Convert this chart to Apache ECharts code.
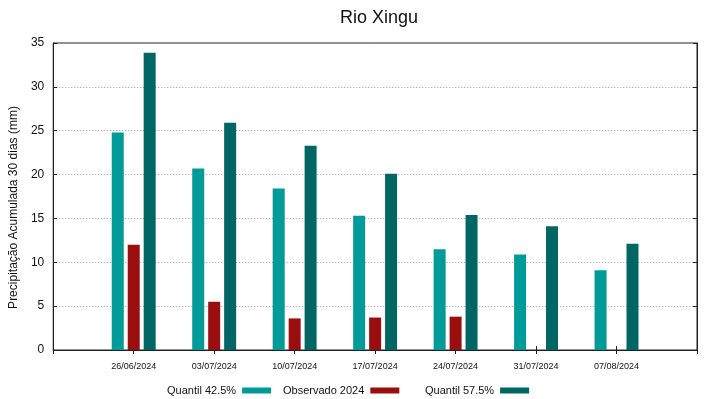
<!DOCTYPE html>
<html>
<head>
<meta charset="utf-8">
<script src="https://cdn.jsdelivr.net/npm/echarts@6/dist/echarts.min.js"></script>
<style>
  html, body { margin: 0; padding: 0; background: #fff; }
  #chart { width: 719px; height: 399px; }
</style>
</head>
<body>
<div id="chart"></div>
<script>
// dados (mm)
var datas = ['26/06/2024', '03/07/2024', '10/07/2024', '17/07/2024', '24/07/2024', '31/07/2024', '07/08/2024'];
var quantil425 = [24.8, 20.7, 18.4, 15.3, 11.5, 10.9, 9.1];
var observado2024 = [12.0, 5.5, 3.6, 3.7, 3.8, null, null];
var quantil575 = [33.9, 25.9, 23.3, 20.1, 15.4, 14.1, 12.1];
var yTicks = [0, 5, 10, 15, 20, 25, 30, 35];

// categorias vazias nas pontas, para deixar meia banda de espaço como no original
var cats = [''].concat(datas, ['']);
function pad(arr) { return [null].concat(arr, [null]); }

var font = 'Liberation Sans, Arial, sans-serif';
var chart = echarts.init(document.getElementById('chart'));

function legendItem(name, left) {
    return {
        data: [name], left: left, top: 380, align: 'right',
        icon: 'rect', itemWidth: 29, itemHeight: 6, itemGap: 0,
        selectedMode: false,
        textStyle: { fontFamily: font, fontSize: 11, color: '#111', padding: [0, 1, 0, 0] }
    };
}

var option = {
    animation: false,
    backgroundColor: '#fff',
    title: {
        text: 'Rio Xingu', left: 374, top: 4, textAlign: 'center',
        textStyle: { fontFamily: font, fontSize: 18, fontWeight: 'normal', color: '#111' }
    },
    legend: [
        legendItem('Quantil 42.5%', 162),
        legendItem('Observado 2024', 278),
        legendItem('Quantil 57.5%', 420)
    ],
    grid: { left: 51, right: 22, top: 43, bottom: 49, show: true, borderColor: '#222', borderWidth: 1 },
    xAxis: [{
        type: 'category', data: cats, boundaryGap: false,
        axisLine: { lineStyle: { color: '#222' } },
        axisTick: { inside: true, length: 4, lineStyle: { color: '#222' } },
        axisLabel: { fontFamily: font, fontSize: 9, color: '#111', margin: 12 },
        splitLine: { show: false }
    }, {
        type: 'category', data: cats, boundaryGap: false, position: 'top',
        axisLine: { lineStyle: { color: '#222' } },
        axisTick: { inside: true, length: 4, lineStyle: { color: '#222' } },
        axisLabel: { show: false }
    }],
    yAxis: [{
        type: 'value', min: 0, max: 35, interval: 5,
        name: 'Precipitação Acumulada 30 dias (mm)',
        nameLocation: 'middle', nameGap: 32, nameRotate: 90,
        nameTextStyle: { fontFamily: font, fontSize: 12, color: '#111', padding: [0, 22, 0, 0] },
        axisLine: { show: true, lineStyle: { color: '#222' } },
        axisTick: { show: true, inside: true, length: 4, lineStyle: { color: '#222' } },
        axisLabel: {
            fontFamily: font, fontSize: 12, color: '#111', margin: 9,
            formatter: function (v) { return yTicks.indexOf(v) >= 0 ? String(v) : ''; }
        },
        splitLine: { lineStyle: { color: '#999', type: [1, 2], width: 1 } }
    }, {
        type: 'value', min: 0, max: 35, interval: 5, position: 'right',
        axisLine: { show: true, lineStyle: { color: '#222' } },
        axisTick: { show: true, inside: true, length: 4, lineStyle: { color: '#222' } },
        axisLabel: { show: false },
        splitLine: { show: false }
    }],
    series: [{
        name: 'Quantil 42.5%', type: 'bar', data: pad(quantil425),
        barWidth: 12, barGap: '33%',
        itemStyle: { color: '#009a98' }
    }, {
        name: 'Observado 2024', type: 'bar', data: pad(observado2024),
        barWidth: 12, barGap: '33%',
        itemStyle: { color: '#990f0f' }
    }, {
        name: 'Quantil 57.5%', type: 'bar', data: pad(quantil575),
        barWidth: 12, barGap: '33%',
        itemStyle: { color: '#006663' }
    }]
};

chart.setOption(option);
</script>
</body>
</html>
